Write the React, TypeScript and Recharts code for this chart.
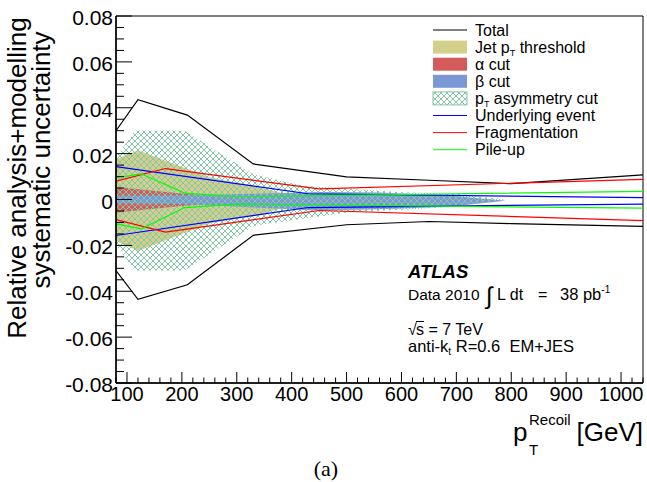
import React from "react";
import { ComposedChart, Area, Line, XAxis, YAxis, ReferenceArea } from "recharts";

const FONT = "'Liberation Sans', Arial, Helvetica, sans-serif";

// x-axis: pT recoil [GeV]
const xDomain = [80, 1040];
const xTicks = Array.from({ length: 49 }, (_, i) => 80 + i * 20);
const yTicks = Array.from({ length: 33 }, (_, i) => (i * 5 - 80) / 1000);

// Total
const totalX = [80, 120, 210, 330, 500, 650, 800, 1040];
const totalUp = [0.03, 0.0435, 0.0368, 0.0155, 0.0099, 0.0084, 0.0069, 0.0107];
const totalDown = [-0.031, -0.0435, -0.0372, -0.0156, -0.011, -0.0096, -0.0105, -0.0117];

// Jet pT threshold
const jetX = [80, 120, 250, 345, 430];
const jetUp = [0.0175, 0.0215, 0.0097, 0.005, 0];
const jetDown = [-0.018, -0.0225, -0.0105, -0.0065, 0];

// alpha cut
const alphaX = [80, 130, 200, 260, 300];
const alphaUp = [0.0055, 0.0043, 0.0026, 0.0015, 0];
const alphaDown = [-0.0058, -0.0045, -0.0028, -0.0017, 0];

// beta cut
const betaX = [80, 200, 330, 450, 560, 680, 790];
const betaUp = [0.0017, 0.0018, 0.0025, 0.0033, 0.003, 0.0018, -0.0005];
const betaDown = [-0.0017, -0.002, -0.0035, -0.0048, -0.0042, -0.0033, -0.0005];

// pT asymmetry cut
const asymX = [80, 115, 205, 330, 420, 510, 600, 700, 790];
const asymUp = [0.0185, 0.03, 0.03, 0.011, 0.006, 0.0046, 0.0032, 0.0025, 0];
const asymDown = [-0.02, -0.031, -0.031, -0.0115, -0.0084, -0.0055, -0.0045, -0.0031, 0];

// Underlying event
const ueX = [80, 430, 1040];
const ueUp = [0.0143, 0.0025, 0.0008];
const ueDown = [-0.0157, -0.0035, -0.002];

// Fragmentation
const fragX = [80, 170, 450, 1040];
const fragUp = [0.008, 0.0135, 0.0046, 0.0088];
const fragDown = [-0.0088, -0.0142, -0.0048, -0.0092];

// Pile-up
const pileX = [80, 126, 205, 300, 1040];
const pileUp = [0.0094, 0.0112, 0.0028, 0.0012, 0.0035];
const pileDown = [-0.0106, -0.0128, -0.0035, -0.002, -0.0038];

const band = (xs: number[], up: number[], down: number[]) =>
  xs.map((x, i) => ({ x, up: up[i], down: down[i], range: [down[i], up[i]] }));

const totalData = band(totalX, totalUp, totalDown);
const jetData = band(jetX, jetUp, jetDown);
const alphaData = band(alphaX, alphaUp, alphaDown);
const betaData = band(betaX, betaUp, betaDown);
const asymData = band(asymX, asymUp, asymDown);
const ueData = band(ueX, ueUp, ueDown);
const fragData = band(fragX, fragUp, fragDown);
const pileData = band(pileX, pileUp, pileDown);

const KHAKI = "#d5cf8c";
const RED_FILL = "#d45b5b";
const BLUE_FILL = "#7a98d6";
const HATCH = "#84c6a5";

const fmtY = (v: number) => (v === 0 ? "0" : v.toFixed(2));

function XTick(props: any) {
  const { x, y, payload } = props;
  const v = payload.value;
  const major = v % 100 === 0;
  return (
    <g>
      <line x1={x} x2={x} y1={y} y2={y - (major ? 11 : 5.5)} stroke="#000" strokeWidth={1} />
      {major && (
        <text x={x} y={y + 17.5} textAnchor="middle" fontSize={20} fontFamily={FONT} fill="#000">
          {v}
        </text>
      )}
    </g>
  );
}

function YTick(props: any) {
  const { x, y, payload } = props;
  const v = payload.value;
  const major = Math.round(v * 1000) % 20 === 0;
  return (
    <g>
      <line x1={x} x2={x + (major ? 16 : 8)} y1={y} y2={y} stroke="#000" strokeWidth={1} />
      {major && (
        <text x={x - 3} y={y + 9} textAnchor="end" fontSize={21} fontFamily={FONT} fill="#000">
          {fmtY(v)}
        </text>
      )}
    </g>
  );
}

const legendItems = [
  { key: "total", kind: "line", color: "#000000" },
  { key: "jet", kind: "box", color: KHAKI },
  { key: "alpha", kind: "box", color: RED_FILL },
  { key: "beta", kind: "box", color: BLUE_FILL },
  { key: "asym", kind: "hatch", color: HATCH },
  { key: "ue", kind: "line", color: "#0000ff" },
  { key: "frag", kind: "line", color: "#ff0000" },
  { key: "pile", kind: "line", color: "#00ff00" },
];

function legendLabel(key: string) {
  switch (key) {
    case "total":
      return <>Total</>;
    case "jet":
      return (
        <>
          Jet p<tspan dy={3} fontSize={9}>T</tspan>
          <tspan dy={-3}> threshold</tspan>
        </>
      );
    case "alpha":
      return <>α cut</>;
    case "beta":
      return <>β cut</>;
    case "asym":
      return (
        <>
          p<tspan dy={3} fontSize={9}>T</tspan>
          <tspan dy={-3}> asymmetry cut</tspan>
        </>
      );
    case "ue":
      return <>Underlying event</>;
    case "frag":
      return <>Fragmentation</>;
    default:
      return <>Pile-up</>;
  }
}

function Overlay() {
  return (
    <svg
      width={647}
      height={482}
      style={{ position: "absolute", left: 0, top: 0, pointerEvents: "none" }}
      fontFamily={FONT}
    >
      <defs>
        <pattern id="asymHatch" patternUnits="userSpaceOnUse" width={6} height={6}>
          <path d="M0,0 L6,6 M6,0 L0,6" stroke={HATCH} strokeWidth={1} />
        </pattern>
      </defs>

      {/* legend */}
      {legendItems.map((it, i) => {
        const base = 35.5 + i * 17.1;
        const cy = base - 5.5;
        return (
          <g key={it.key}>
            {it.kind === "line" && (
              <line x1={433} x2={467} y1={cy} y2={cy} stroke={it.color} strokeWidth={1} />
            )}
            {it.kind === "box" && <rect x={433} y={cy - 6.5} width={34} height={13} fill={it.color} />}
            {it.kind === "hatch" && (
              <rect x={433} y={cy - 6.5} width={34} height={13} fill="url(#asymHatch)" stroke={HATCH} strokeWidth={1} />
            )}
            <text x={475} y={base} fontSize={16} fill="#000">
              {legendLabel(it.key)}
            </text>
          </g>
        );
      })}

      {/* ATLAS label */}
      <text x={408} y={278} fontSize={18.5} fontWeight="bold" fontStyle="italic" fill="#000">
        ATLAS
      </text>
      <text x={408} y={300} fontSize={15.5} fill="#000">
        Data 2010
      </text>
      <text x={486} y={304} fontSize={24} fill="#000">
        ∫
      </text>
      <text x={497} y={300} fontSize={16} fill="#000">
        L dt
      </text>
      <text x={538} y={300} fontSize={16} fill="#000">
        =
      </text>
      <text x={560} y={300} fontSize={16.5} fill="#000">
        38 pb<tspan dy={-7} fontSize={10}>-1</tspan>
      </text>
      <text x={408} y={335} fontSize={16} fill="#000">
        √
      </text>
      <line x1={416} x2={424} y1={321.5} y2={321.5} stroke="#000" strokeWidth={1} />
      <text x={416} y={335} fontSize={16} fill="#000">
        s = 7 TeV
      </text>
      <text x={408} y={352} fontSize={16.5} fill="#000">
        anti-k<tspan dy={3} fontSize={10}>t</tspan>
        <tspan dy={-3}>{"\u00a0R=0.6\u00a0\u00a0EM+JES"}</tspan>
      </text>

      {/* y-axis title */}
      <text transform="rotate(-90)" x={-178} y={26} textAnchor="middle" fontSize={26} fill="#000">
        Relative analysis+modelling
      </text>
      <text transform="rotate(-90)" x={-160} y={50} textAnchor="middle" fontSize={26} fill="#000">
        systematic uncertainty
      </text>

      {/* x-axis title */}
      <text x={513} y={441} fontSize={26} fill="#000">
        p
      </text>
      <text x={529} y={425} fontSize={15} fill="#000">
        Recoil
      </text>
      <text x={529} y={455} fontSize={15} fill="#000">
        T
      </text>
      <text x={643} y={441} textAnchor="end" fontSize={26} fill="#000">
        [GeV]
      </text>

      <text x={326} y={476} textAnchor="middle" fontSize={22} fontFamily="'Liberation Serif', 'Times New Roman', serif" fill="#000">
        (a)
      </text>
    </svg>
  );
}

export default function App() {
  return (
    <div style={{ position: "absolute", left: 0, top: 0, width: 647, height: 482, background: "#fff" }}>
      <ComposedChart width={647} height={482} margin={{ top: 16, right: 4, bottom: 0, left: 56 }}>
        <XAxis
          dataKey="x"
          type="number"
          domain={xDomain}
          allowDataOverflow
          ticks={xTicks}
          interval={0}
          height={99}
          tickSize={0}
          tickMargin={0}
          tickLine={false}
          tick={<XTick />}
          axisLine={{ stroke: "#000", strokeWidth: 1.5 }}
        />
        <YAxis
          type="number"
          domain={[-0.08, 0.08]}
          allowDataOverflow
          ticks={yTicks}
          interval={0}
          width={60}
          tickSize={0}
          tickMargin={0}
          tickLine={false}
          tick={<YTick />}
          axisLine={{ stroke: "#000", strokeWidth: 1.5 }}
        />
        <Area data={jetData} dataKey="range" type="linear" fill={KHAKI} fillOpacity={1} stroke="none" isAnimationActive={false} />
        <Area data={alphaData} dataKey="range" type="linear" fill={RED_FILL} fillOpacity={1} stroke="none" isAnimationActive={false} />
        <Area data={betaData} dataKey="range" type="linear" fill={BLUE_FILL} fillOpacity={1} stroke="none" isAnimationActive={false} />
        <Area data={asymData} dataKey="range" type="linear" fill="url(#asymHatch)" fillOpacity={1} stroke="none" isAnimationActive={false} />
        <Line data={totalData} dataKey="up" type="linear" stroke="#000" strokeWidth={1.2} dot={false} isAnimationActive={false} />
        <Line data={totalData} dataKey="down" type="linear" stroke="#000" strokeWidth={1.2} dot={false} isAnimationActive={false} />
        <Line data={ueData} dataKey="up" type="linear" stroke="#0000ff" strokeWidth={1.2} dot={false} isAnimationActive={false} />
        <Line data={ueData} dataKey="down" type="linear" stroke="#0000ff" strokeWidth={1.2} dot={false} isAnimationActive={false} />
        <Line data={fragData} dataKey="up" type="linear" stroke="#ff0000" strokeWidth={1.2} dot={false} isAnimationActive={false} />
        <Line data={fragData} dataKey="down" type="linear" stroke="#ff0000" strokeWidth={1.2} dot={false} isAnimationActive={false} />
        <Line data={pileData} dataKey="up" type="linear" stroke="#00ff00" strokeWidth={1.2} dot={false} isAnimationActive={false} />
        <Line data={pileData} dataKey="down" type="linear" stroke="#00ff00" strokeWidth={1.2} dot={false} isAnimationActive={false} />
        <ReferenceArea x1={80} x2={1040} y1={-0.08} y2={0.08} fill="none" stroke="#000" strokeWidth={1} ifOverflow="visible" />
      </ComposedChart>
      <Overlay />
    </div>
  );
}
